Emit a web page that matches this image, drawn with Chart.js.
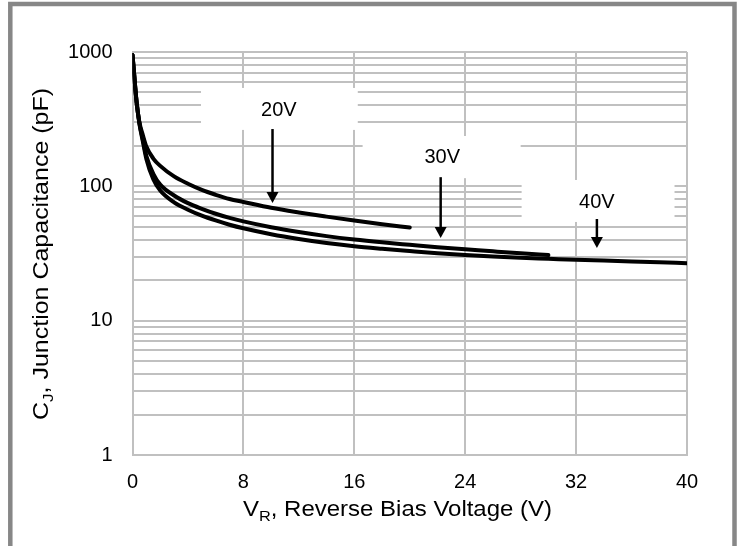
<!DOCTYPE html>
<html>
<head>
<meta charset="utf-8">
<script src="https://cdn.jsdelivr.net/npm/chart.js@4/dist/chart.umd.min.js"></script>
<style>
  html, body { margin: 0; padding: 0; background: #fff; }
  canvas { display: block; }
</style>
</head>
<body>
<canvas id="cjChart" width="737" height="546"></canvas>
<script>
// reverse voltage (V) and junction capacitance (pF)
const vr20 = [0, 0.1, 0.2, 0.3, 0.5, 0.75, 1, 1.5, 2, 3, 4, 5, 6, 7, 8, 10, 12, 14, 16, 18, 20];
const cj20 = [950, 720, 540, 420, 300, 240, 198, 161, 142, 118.5, 104.5, 94, 86.5, 80.5, 76.5, 69.2, 63.9, 59.5, 55.6, 52.2, 49.3];

const vr30 = [0, 0.1, 0.2, 0.3, 0.5, 0.75, 1, 1.5, 2, 3, 4, 5, 6, 7, 8, 10, 12, 14, 16, 18, 20, 22, 24, 26, 28, 30];
const cj30 = [950, 720, 540, 420, 295, 222, 168, 124, 103, 85.5, 75, 68, 62.5, 58.2, 54.8, 49.6, 45.7, 42.6, 40.2, 38.3, 36.7, 35.2, 34, 32.8, 31.7, 30.8];

const vr40 = [0, 0.1, 0.2, 0.3, 0.5, 0.75, 1, 1.5, 2, 3, 4, 5, 6, 7, 8, 10, 12, 14, 16, 18, 20, 22, 24, 26, 28, 30, 32, 34, 36, 38, 40];
const cj40 = [950, 720, 540, 420, 292, 215, 160, 113, 93, 76, 67, 60.5, 55.7, 51.8, 48.7, 44, 40.5, 37.8, 35.8, 34.3, 33, 31.8, 30.8, 30, 29.4, 28.9, 28.4, 28, 27.6, 27.2, 26.8];

const curveNames = ['20V', '30V', '40V'];
const yTickLabels = [1, 10, 100, 1000];
const xStep = 8;

// callouts, in data units: box [x0, x1, yLow, yHigh], text [x, y], arrow [x, yFrom, yTo]
const noteBoxes = [[4.94, 16.25, 263, 540], [16.6, 28.0, 115, 237], [28.07, 39.1, 54.3, 111.5]];
const noteText = [[10.56, 364], [22.34, 164], [33.5, 75.8]];
const noteArrows = [[10.1, 267, 75.2], [22.23, 117, 41.2], [33.5, 57.1, 34.8]];

const FONT = "'Liberation Sans', Arial, sans-serif";
const GRID = '#c0c0c0';

// log gridlines at 1..9 of each decade
const gridValues = [];
[1, 10, 100].forEach(d => { for (let k = 1; k <= 9; k++) gridValues.push(k * d); });
gridValues.push(1000);

function toPoints(xs, ys) {
    return xs.map((x, i) => ({ x: x, y: ys[i] }));
}

function drawRich(ctx, parts, cx, cy, targetW, rotate) {
    const mainFont = '22px ' + FONT;
    const subFont = '15px ' + FONT;
    let total = 0;
    parts.forEach(p => {
        ctx.font = p.sub ? subFont : mainFont;
        p.w = ctx.measureText(p.t).width;
        total += p.w;
    });
    ctx.save();
    ctx.translate(cx, cy);
    if (rotate) ctx.rotate(-Math.PI / 2);
    ctx.scale(targetW / total, 1);
    ctx.fillStyle = '#000';
    ctx.textAlign = 'left';
    ctx.textBaseline = 'alphabetic';
    let x = -total / 2;
    parts.forEach(p => {
        ctx.font = p.sub ? subFont : mainFont;
        ctx.fillText(p.t, x, p.sub ? 5 : 0);
        x += p.w;
    });
    ctx.restore();
}

const callouts = {
    id: 'callouts',
    beforeDatasetsDraw(chart) {
        const ctx = chart.ctx, xs = chart.scales.x, ys = chart.scales.y;
        ctx.save();
        ctx.fillStyle = '#fff';
        noteBoxes.forEach(b => {
            const x0 = xs.getPixelForValue(b[0]), x1 = xs.getPixelForValue(b[1]);
            const y0 = ys.getPixelForValue(b[3]), y1 = ys.getPixelForValue(b[2]);
            ctx.fillRect(x0, y0, x1 - x0, y1 - y0);
        });
        ctx.restore();
    },
    afterDatasetsDraw(chart) {
        const ctx = chart.ctx, xs = chart.scales.x, ys = chart.scales.y;
        ctx.save();
        ctx.fillStyle = '#000';
        ctx.strokeStyle = '#000';
        ctx.font = '20px ' + FONT;
        ctx.textAlign = 'center';
        ctx.textBaseline = 'middle';
        curveNames.forEach((name, i) => {
            ctx.fillText(name, xs.getPixelForValue(noteText[i][0]), ys.getPixelForValue(noteText[i][1]));
            const ax = xs.getPixelForValue(noteArrows[i][0]);
            const y1 = ys.getPixelForValue(noteArrows[i][1]);
            const y2 = ys.getPixelForValue(noteArrows[i][2]);
            ctx.lineWidth = 2.5;
            ctx.beginPath();
            ctx.moveTo(ax, y1);
            ctx.lineTo(ax, y2 - 9);
            ctx.stroke();
            ctx.beginPath();
            ctx.moveTo(ax - 6, y2 - 11);
            ctx.lineTo(ax + 6, y2 - 11);
            ctx.lineTo(ax, y2);
            ctx.closePath();
            ctx.fill();
        });
        ctx.restore();

        drawRich(ctx, [{ t: 'V' }, { t: 'R', sub: true }, { t: ', Reverse Bias Voltage (V)' }], 397.5, 516, 309, false);
        drawRich(ctx, [{ t: 'C' }, { t: 'J', sub: true }, { t: ', Junction Capacitance (pF)' }], 48, 254, 332, true);
    },
    afterDraw(chart) {
        const ctx = chart.ctx;
        ctx.save();
        ctx.strokeStyle = '#878787';
        ctx.lineWidth = 4.5;
        ctx.strokeRect(10.3, 4, 724.2, 600);
        ctx.restore();
    }
};

const ctx = document.getElementById('cjChart').getContext('2d');
const cjChart = new Chart(ctx, {
    type: 'line',
    data: {
        datasets: [
            { label: curveNames[0], data: toPoints(vr20, cj20) },
            { label: curveNames[1], data: toPoints(vr30, cj30) },
            { label: curveNames[2], data: toPoints(vr40, cj40) }
        ].map(d => Object.assign(d, {
            borderColor: '#000',
            borderWidth: 4,
            pointRadius: 0,
            fill: false,
            cubicInterpolationMode: 'monotone',
            borderCapStyle: 'round',
            borderJoinStyle: 'round'
        }))
    },
    options: {
        responsive: false,
        animation: false,
        devicePixelRatio: 1,
        layout: { padding: { top: 52, right: 50, left: 0, bottom: 0 } },
        plugins: {
            legend: { display: false },
            tooltip: { enabled: false }
        },
        scales: {
            x: {
                type: 'linear',
                min: 0,
                max: 40,
                ticks: { stepSize: xStep, padding: 15, color: '#000', font: { size: 20, family: FONT } },
                grid: { color: GRID, lineWidth: 2, drawTicks: false },
                border: { color: GRID, width: 2 },
                afterFit(scale) { scale.height = 91; }
            },
            y: {
                type: 'logarithmic',
                min: 1,
                max: 1000,
                afterBuildTicks(scale) { scale.ticks = gridValues.map(v => ({ value: v })); },
                ticks: {
                    autoSkip: false,
                    padding: 20,
                    color: '#000',
                    font: { size: 20, family: FONT },
                    callback: v => yTickLabels.includes(v) ? String(v) : ''
                },
                grid: { color: GRID, lineWidth: 2, drawTicks: false },
                border: { color: GRID, width: 2 },
                afterFit(scale) { scale.width = 132.5; }
            }
        }
    },
    plugins: [callouts]
});
</script>
</body>
</html>
